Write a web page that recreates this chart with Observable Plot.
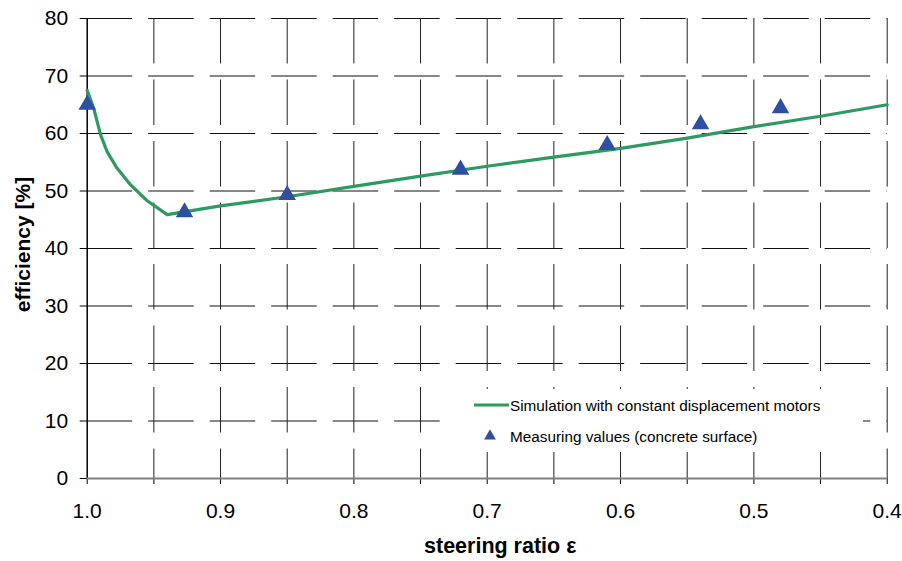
<!DOCTYPE html>
<html>
<head>
<meta charset="utf-8">
<script src="https://cdn.jsdelivr.net/npm/d3@7"></script>
<script src="https://cdn.jsdelivr.net/npm/@observablehq/plot@0.6"></script>
<style>
  html, body { margin: 0; padding: 0; background: #fff; }
  #wrap { position: relative; width: 902px; height: 561px; font-family: "Liberation Sans", Arial, sans-serif; }
  #legend { position: absolute; left: 450px; top: 389px; width: 413px; height: 63px; background: #fff; }
  #legend svg { position: absolute; left: 0; top: 0; }
</style>
</head>
<body>
<div id="wrap"></div>
<script>
// ---- data ----
const simRatio = [1.0, 0.995, 0.99, 0.985, 0.978, 0.968, 0.955, 0.94, 0.9, 0.85, 0.8, 0.75, 0.7, 0.65, 0.6, 0.55, 0.5, 0.45, 0.4];
const simEff   = [67.5, 64.3, 59.8, 56.8, 54.1, 51.2, 48.3, 45.9, 47.4, 49.0, 50.8, 52.6, 54.3, 55.9, 57.4, 59.2, 61.2, 63.0, 65.0];
const measRatio = [1.0, 0.927, 0.85, 0.72, 0.61, 0.54, 0.48];
const measEff   = [65.0, 46.3, 49.3, 53.7, 58.0, 61.6, 64.4];
const xMinor = [1.0, 0.95, 0.9, 0.85, 0.8, 0.75, 0.7, 0.65, 0.6, 0.55, 0.5, 0.45, 0.4];
const xTickValues = [1.0, 0.9, 0.8, 0.7, 0.6, 0.5, 0.4];
const xTickLabels = ["1.0", "0.9", "0.8", "0.7", "0.6", "0.5", "0.4"];
const yTickValues = [0, 10, 20, 30, 40, 50, 60, 70, 80];
const yTickLabels = ["0", "10", "20", "30", "40", "50", "60", "70", "80"];
const xTitle = "steering ratio ε";
const yTitle = "efficiency [%]";
const seriesNames = ["Simulation with constant displacement motors", "Measuring values (concrete surface)"];
const lineColor = "#2e9a62";
const markColor = "#2f4fa2";

const sim = simRatio.map((r, i) => ({r, e: simEff[i]}));
const meas = measRatio.map((r, i) => ({r, e: measEff[i]}));
const xDom = [xMinor[0], xMinor[xMinor.length - 1]];
const yDom = [yTickValues[0], yTickValues[yTickValues.length - 1]];
const dash = "45.5,16";
const font = "'Liberation Sans', Arial, sans-serif";

const chart = Plot.plot({
  width: 902,
  height: 561,
  marginLeft: 86.7,
  marginRight: 15.3,
  marginTop: 18,
  marginBottom: 83,
  style: {fontFamily: font, fontSize: "21px", color: "#000", background: "#fff"},
  x: {domain: xDom, axis: null},
  y: {domain: yDom, axis: null},
  marks: [
    // dashed grid
    Plot.ruleY(yTickValues.slice(1), {y: d => d, x1: xDom[0], x2: xDom[1], stroke: "#111", strokeWidth: 1, strokeDasharray: dash}),
    Plot.ruleX(xMinor.slice(1), {x: d => d, y1: yDom[1], y2: yDom[0], stroke: "#222", strokeWidth: 1, strokeDasharray: dash}),
    // axes
    Plot.axisX({ticks: xMinor, tickSize: 6, tickFormat: () => "", stroke: "#000", strokeWidth: 1, label: null}),
    Plot.axisX({ticks: xTickValues, tickSize: 0, tickPadding: 25, tickFormat: d => xTickLabels[xTickValues.indexOf(d)], fontSize: 21, label: null}),
    Plot.axisY({ticks: yTickValues, tickSize: 7, tickPadding: 12, tickFormat: d => yTickLabels[yTickValues.indexOf(d)], fontSize: 21, label: null}),
    Plot.ruleX([xDom[0]], {x: d => d, y1: yDom[1], y2: yDom[0], stroke: "#000", strokeWidth: 1.5}),
    Plot.ruleY([yDom[0]], {y: d => d, x1: xDom[0], x2: xDom[1], stroke: "#808080", strokeWidth: 2.2}),
    // data
    Plot.line(sim, {x: "r", y: "e", stroke: lineColor, strokeWidth: 3.2}),
    Plot.dot(meas, {x: "r", y: "e", symbol: "triangle", r: 6.5, fill: markColor, stroke: "none"}),
    // titles
    Plot.text([xTitle], {text: d => d, frameAnchor: "bottom", textAnchor: "middle", dx: 13, dy: 74, lineAnchor: "bottom", fontWeight: "bold", fontSize: 21.5}),
    Plot.text([yTitle], {text: d => d, frameAnchor: "left", textAnchor: "middle", rotate: -90, dx: -64, dy: -4, lineAnchor: "middle", fontWeight: "bold", fontSize: 21})
  ]
});

const wrap = document.getElementById("wrap");
wrap.appendChild(chart);

// legend
const legend = document.createElement("div");
legend.id = "legend";
legend.innerHTML = `
<svg width="413" height="63" xmlns="http://www.w3.org/2000/svg" font-family="${font.replace(/'/g, "")}" font-size="15.3">
  <line x1="24" x2="59" y1="16" y2="16" stroke="${lineColor}" stroke-width="3.2"/>
  <text x="60" y="21.5" fill="#000">${seriesNames[0]}</text>
  <path transform="translate(40,47)" d="${d3.symbol(d3.symbolTriangle, 60)()}" fill="${markColor}"/>
  <text x="60" y="53" fill="#000">${seriesNames[1]}</text>
</svg>`;
wrap.appendChild(legend);
</script>
</body>
</html>
